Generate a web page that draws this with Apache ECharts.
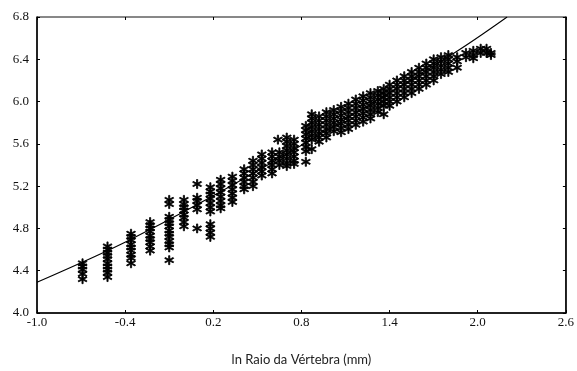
<!DOCTYPE html>
<html>
<head>
<meta charset="utf-8">
<script src="https://cdn.jsdelivr.net/npm/echarts@6/dist/echarts.min.js"></script>
<style>html,body{margin:0;padding:0;background:#fff}#c{width:577px;height:371px}</style>
</head>
<body>
<div id="c"></div>
<script>
// Column x positions (ln vertebra radius) and y values of the points in each column
var colX = [-0.69,-0.52,-0.36,-0.23,-0.10,0.00,0.09,0.18,0.25,0.33,0.41,0.47,0.53,0.60,0.64,0.65,0.70,0.75,0.83,0.87,
            0.92,0.97,1.02,1.07,1.12,1.17,1.22,1.27,1.32,1.36,1.40,1.45,1.50,1.55,1.60,1.65,1.70,1.75,1.80,1.86,1.92,1.97,2.02,2.06,2.09];
var colY = [
  [4.47,4.44,4.41,4.37,4.32],
  [4.63,4.60,4.57,4.54,4.51,4.47,4.44,4.41,4.38,4.34],
  [4.75,4.72,4.69,4.65,4.62,4.59,4.55,4.52,4.47],
  [4.86,4.83,4.80,4.77,4.73,4.70,4.67,4.63,4.59],
  [5.07,5.03,4.91,4.88,4.85,4.82,4.78,4.75,4.72,4.68,4.65,4.62,4.50],
  [5.07,5.03,5.00,4.97,4.93,4.90,4.86,4.82],
  [5.22,5.09,5.06,5.02,4.98,4.80],
  [5.19,5.15,5.12,5.08,5.04,5.00,4.96,4.84,4.80,4.76,4.72],
  [5.26,5.22,5.18,5.14,5.10,5.06,5.02,4.99],
  [5.29,5.25,5.21,5.17,5.13,5.09,5.05],
  [5.36,5.32,5.28,5.24,5.20,5.17],
  [5.44,5.40,5.36,5.32,5.28,5.24,5.20],
  [5.50,5.46,5.42,5.38,5.34,5.30],
  [5.52,5.48,5.44,5.40,5.36,5.32],
  [5.64],
  [5.52,5.48,5.44,5.40],
  [5.66,5.62,5.58,5.54,5.50,5.46,5.42,5.39],
  [5.64,5.60,5.56,5.52,5.48,5.44,5.41],
  [5.77,5.73,5.69,5.65,5.61,5.57,5.53,5.43],
  [5.88,5.84,5.80,5.76,5.72,5.68,5.64,5.55],
  [5.86,5.82,5.78,5.74,5.70,5.66,5.62],
  [5.90,5.86,5.82,5.78,5.74,5.70,5.66],
  [5.92,5.88,5.84,5.80,5.76,5.72],
  [5.95,5.91,5.87,5.83,5.79,5.75,5.71],
  [5.98,5.94,5.90,5.86,5.82,5.78,5.74],
  [6.02,5.98,5.94,5.90,5.86,5.82,5.78],
  [6.05,6.01,5.97,5.93,5.89,5.85,5.81],
  [6.08,6.04,6.00,5.96,5.92,5.88,5.84],
  [6.10,6.06,6.02,5.98,5.94,5.90],
  [6.12,6.08,6.04,6.00,5.96,5.88],
  [6.16,6.12,6.08,6.04,6.00,5.96],
  [6.20,6.16,6.12,6.08,6.04,6.00],
  [6.24,6.20,6.16,6.12,6.08,6.04],
  [6.28,6.24,6.20,6.16,6.12,6.08],
  [6.32,6.28,6.24,6.20,6.16,6.12],
  [6.36,6.32,6.28,6.24,6.20,6.16],
  [6.40,6.36,6.32,6.28,6.24,6.20],
  [6.42,6.38,6.34,6.30,6.26],
  [6.44,6.40,6.36,6.32,6.28],
  [6.42,6.38,6.32],
  [6.46,6.42],
  [6.48,6.44,6.41],
  [6.50,6.46],
  [6.50,6.46],
  [6.46,6.44]
];
// Fitted line
var fitX = [-1.0,-0.37,0.52,1.84,2.20];
var fitY = [4.29,4.69,5.36,6.46,6.80];
// Axis ticks
var xTicks = [-1.0,-0.4,0.2,0.8,1.4,2.0,2.6];
var yTicks = [4.0,4.4,4.8,5.2,5.6,6.0,6.4,6.8];

var pts = [];
colX.forEach(function(x,i){ colY[i].forEach(function(y){ pts.push([x,y]); }); });
var fit = fitX.map(function(x,i){ return [x,fitY[i]]; });

var star = 'path://M4.5,0L5.5,0L5.5,3.3L8.3,1.7L8.8,2.6L6,4.2L8.8,5.8L8.3,6.7L5.5,5.1L5.5,8.4L4.5,8.4L4.5,5.1L1.7,6.7L1.2,5.8L4,4.2L1.2,2.6L1.7,1.7L4.5,3.3Z';

var serif = "Liberation Serif";
var chart = echarts.init(document.getElementById('c'));
chart.setOption({
  animation:false,
  backgroundColor:'#fff',
  textStyle:{fontFamily:serif},
  grid:{left:37,right:11,top:17,bottom:56,show:true,borderColor:'#111',borderWidth:1},
  xAxis:[{
    type:'value',min:-1.0,max:2.6,interval:0.6,
    axisLine:{show:true,onZero:false,lineStyle:{color:'#000',width:1.5}},
    axisTick:{show:true,inside:true,length:3,lineStyle:{color:'#000'}},
    splitLine:{show:false},
    axisLabel:{color:'#111',fontFamily:serif,fontSize:13,margin:3,formatter:function(v){return v.toFixed(1);}},
    name:'ln Raio da Vértebra (mm)',nameLocation:'middle',nameGap:40,
    nameTextStyle:{color:'#222',fontFamily:'Lato',fontSize:13}
  },{
    type:'value',position:'top',min:-1.0,max:2.6,interval:0.6,
    axisLine:{show:false,onZero:false},axisTick:{show:true,inside:true,length:3,lineStyle:{color:'#000'}},
    axisLabel:{show:false},splitLine:{show:false}
  }],
  yAxis:[{
    type:'value',min:4.0,max:6.8,interval:0.4,
    axisLine:{show:true,onZero:false,lineStyle:{color:'#000',width:1.5}},
    axisTick:{show:true,inside:true,length:3,lineStyle:{color:'#000'}},
    splitLine:{show:false},
    axisLabel:{color:'#111',fontFamily:serif,fontSize:13,margin:8,formatter:function(v){return v.toFixed(1);}}
  },{
    type:'value',position:'right',min:4.0,max:6.8,interval:0.4,
    axisLine:{show:true,onZero:false,lineStyle:{color:'#000',width:1.5}},axisTick:{show:true,inside:true,length:3,lineStyle:{color:'#000'}},
    axisLabel:{show:false},splitLine:{show:false}
  }],
  series:[{
    type:'scatter',data:pts,symbol:star,symbolSize:9,
    itemStyle:{color:'#000',borderColor:'#000',borderWidth:0.8,opacity:1},
    silent:true
  },{
    type:'line',data:fit,smooth:0.3,showSymbol:false,clip:true,
    lineStyle:{color:'#000',width:1.1},silent:true
  }]
});
</script>
</body>
</html>
